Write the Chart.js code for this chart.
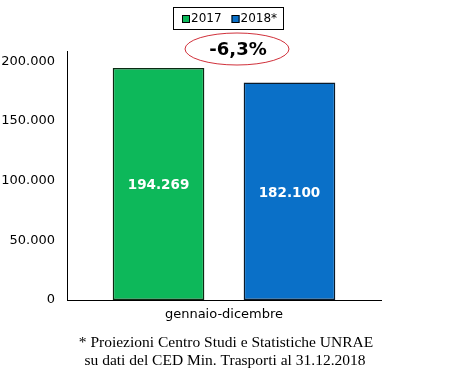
<!DOCTYPE html>
<html>
<head>
<meta charset="utf-8">
<script src="https://cdn.jsdelivr.net/npm/chart.js@4/dist/chart.umd.min.js"></script>
<style>
html,body{margin:0;padding:0;background:#fff;}
#wrap{position:relative;width:467px;height:372px;}
</style>
</head>
<body>
<div id="wrap"><canvas id="c" width="467" height="372"></canvas></div>
<script>
const categories = ["gennaio-dicembre"];
const seriesNames = ["2017", "2018*"];
const values2017 = [194269];
const values2018 = [182100];
const valueLabels2017 = ["194.269"];
const valueLabels2018 = ["182.100"];
const yTicks = [0, 50000, 100000, 150000, 200000];
const yTickLabels = ["0", "50.000", "100.000", "150.000", "200.000"];
const changeLabel = "-6,3%";
const footnote = ["* Proiezioni Centro Studi e Statistiche UNRAE", "su dati del CED Min. Trasporti al 31.12.2018"];

const colors = ["#0DB85A", "#0A70C8"];
const labelSets = [valueLabels2017, valueLabels2018];

const extras = {
  id: 'extras',
  afterDatasetsDraw(chart) {
    const ctx = chart.ctx;
    chart.data.datasets.forEach((ds, i) => {
      const meta = chart.getDatasetMeta(i);
      meta.data.forEach((bar, j) => {
        const mid = (bar.y + bar.base) / 2;
        ctx.save();
        ctx.fillStyle = '#ffffff';
        ctx.font = 'bold 13.5px "DejaVu Sans"';
        ctx.textAlign = 'center';
        ctx.textBaseline = 'middle';
        ctx.fillText(labelSets[i][j], bar.x, mid + 2);
        ctx.restore();
      });
    });
  },
  afterDraw(chart) {
    const ctx = chart.ctx;
    const area = chart.chartArea;
    ctx.save();
    ctx.font = '12px "DejaVu Sans"';
    ctx.textBaseline = 'middle';
    const bx = 173, by = 7, bw = 110, bh = 22;
    ctx.strokeStyle = '#000';
    ctx.lineWidth = 1;
    ctx.strokeRect(bx + 0.5, by + 0.5, bw, bh);
    let x = bx + 9;
    const cy = by + bh / 2 + 1;
    seriesNames.forEach((n, i) => {
      ctx.fillStyle = colors[i];
      ctx.fillRect(x, cy - 4, 8, 8);
      ctx.strokeStyle = '#000';
      ctx.strokeRect(x + 0.5, cy - 3.5, 7, 7);
      ctx.fillStyle = '#000';
      ctx.fillText(n, x + 9, cy);
      x += 9 + ctx.measureText(n).width + 10;
    });
    const ex = (area.left + area.right) / 2 + 13, ey = 49;
    ctx.beginPath();
    ctx.ellipse(ex, ey, 52, 16, 0, 0, Math.PI * 2);
    ctx.strokeStyle = '#D0303A';
    ctx.lineWidth = 1;
    ctx.stroke();
    ctx.fillStyle = '#000';
    ctx.font = 'bold 18px "DejaVu Sans"';
    ctx.textAlign = 'center';
    ctx.fillText(changeLabel, ex + 1, ey + 1);
    ctx.font = '15.5px "Liberation Serif"';
    ctx.fillText(footnote[0], 226, 343);
    ctx.fillText(footnote[1], 225, 361);
    ctx.restore();
  }
};

new Chart(document.getElementById('c'), {
  type: 'bar',
  data: {
    labels: categories,
    datasets: [
      { label: seriesNames[0], data: values2017, backgroundColor: colors[0], borderColor: '#0b2a12', borderWidth: 1.5, borderSkipped: false },
      { label: seriesNames[1], data: values2018, backgroundColor: colors[1], borderColor: '#0a1a2a', borderWidth: 1.5, borderSkipped: false }
    ]
  },
  options: {
    responsive: false,
    animation: false,
    devicePixelRatio: 1,
    layout: { padding: { left: 0, right: 86, top: 51, bottom: 42 } },
    plugins: { legend: { display: false }, tooltip: { enabled: false } },
    datasets: { bar: { categoryPercentage: 0.834, barPercentage: 0.70 } },
    scales: {
      x: {
        grid: { display: false, drawTicks: false },
        border: { color: '#000', width: 1 },
        ticks: { color: '#000', font: { family: 'DejaVu Sans', size: 13 }, padding: 7 },
        afterFit(s) { s.height = 30; }
      },
      y: {
        min: 0, max: 208500,
        grid: { display: false, drawOnChartArea: false, drawTicks: true, tickLength: 5, tickColor: '#000' },
        border: { color: '#000', width: 1 },
        afterBuildTicks(s) { s.ticks = yTicks.map(v => ({ value: v })); },
        ticks: {
          color: '#000', font: { family: 'DejaVu Sans', size: 13 }, padding: 7,
          callback(v) { const i = yTicks.indexOf(v); return i >= 0 ? yTickLabels[i] : ''; }
        },
        afterFit(s) { s.width = 67; }
      }
    }
  },
  plugins: [extras]
});
</script>
</body>
</html>
